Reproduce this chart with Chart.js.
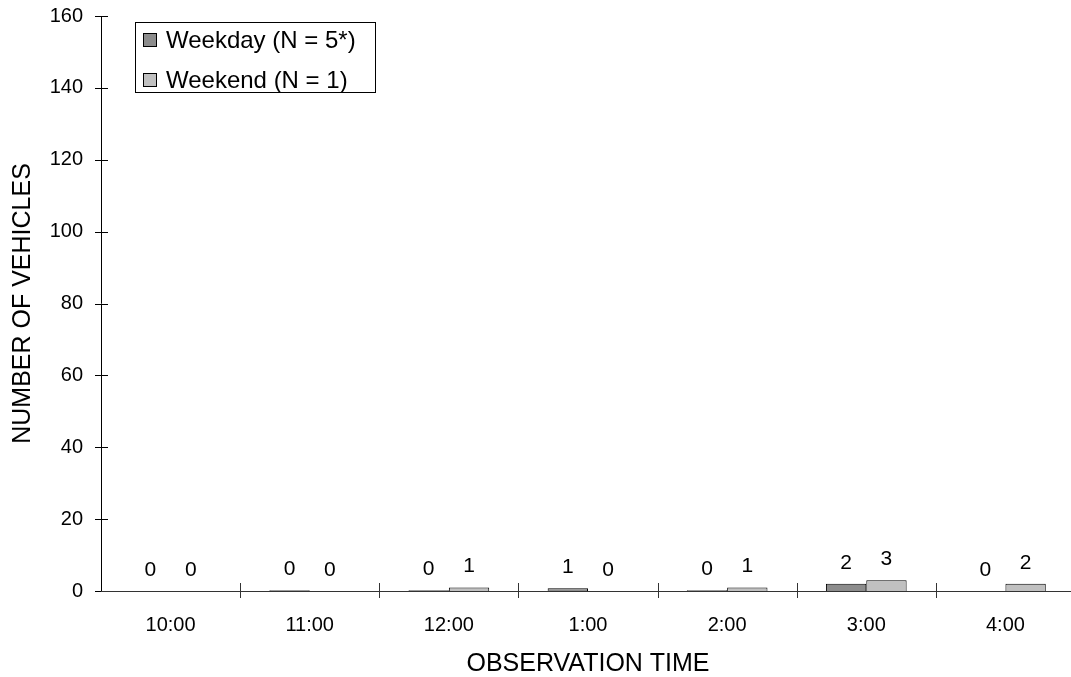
<!DOCTYPE html>
<html>
<head>
<meta charset="utf-8">
<script src="https://cdn.jsdelivr.net/npm/chart.js@4"></script>
<style>
  html, body { margin: 0; padding: 0; background: #fff; overflow: hidden; }
  #wrap { width: 1075px; height: 677px; position: relative; }
</style>
</head>
<body>
<div id="wrap"><canvas id="c"></canvas></div>
<script>
const times = ["10:00", "11:00", "12:00", "1:00", "2:00", "3:00", "4:00"];
const weekday = [0, 0.2, 0.2, 0.8, 0.2, 2, 0];
const weekend = [0, 0, 1, 0, 1, 3, 2];
const yTicks = [0, 20, 40, 60, 80, 100, 120, 140, 160];

const font = "Liberation Sans, Arial, sans-serif";

// value labels above every bar
const valueLabels = {
  id: "valueLabels",
  afterDatasetsDraw(chart) {
    const ctx = chart.ctx;
    ctx.save();
    ctx.font = "21px " + font;
    ctx.fillStyle = "#000";
    ctx.textAlign = "center";
    ctx.textBaseline = "alphabetic";
    chart.data.datasets.forEach((ds, i) => {
      chart.getDatasetMeta(i).data.forEach((bar, j) => {
        ctx.fillText(String(Math.round(ds.data[j])), bar.x, bar.y - 15);
      });
    });
    ctx.restore();
  }
};

// axis lines, crossing tick marks and the boxed legend
const frame = {
  id: "frame",
  afterDraw(chart) {
    const ctx = chart.ctx;
    const a = chart.chartArea;
    const ys = chart.scales.y;
    ctx.save();
    ctx.strokeStyle = "#000";
    ctx.lineWidth = 1;
    ctx.beginPath();
    ctx.moveTo(a.left + 0.5, a.top);
    ctx.lineTo(a.left + 0.5, a.bottom);
    yTicks.forEach(v => {
      const y = Math.round(ys.getPixelForValue(v)) + 0.5;
      ctx.moveTo(a.left - 6, y);
      ctx.lineTo(a.left + 7, y);
    });
    ctx.stroke();
    ctx.strokeStyle = "#333";
    ctx.beginPath();
    ctx.moveTo(a.left, a.bottom + 0.5);
    ctx.lineTo(a.right, a.bottom + 0.5);
    const step = (a.right - a.left) / times.length;
    for (let i = 1; i < times.length; i++) {
      const x = Math.round(a.left + i * step) + 0.5;
      ctx.moveTo(x, a.bottom - 8);
      ctx.lineTo(x, a.bottom + 7);
    }
    ctx.stroke();

    // legend
    ctx.fillStyle = "#fff";
    ctx.fillRect(135, 22, 240, 70);
    ctx.strokeStyle = "#000";
    ctx.strokeRect(135.5, 22.5, 240, 70);
    ctx.font = "24px " + font;
    ctx.textBaseline = "alphabetic";
    ctx.textAlign = "left";
    chart.data.datasets.forEach((ds, i) => {
      const cy = 40 + i * 40;
      ctx.fillStyle = ds.backgroundColor;
      ctx.fillRect(143, cy - 7, 14, 14);
      ctx.strokeStyle = "#000";
      ctx.strokeRect(143.5, cy - 6.5, 13, 13);
      ctx.fillStyle = "#000";
      ctx.fillText(ds.label, 166, cy + 8);
    });
    ctx.restore();
  }
};

new Chart(document.getElementById("c"), {
  type: "bar",
  data: {
    labels: times,
    datasets: [
      { label: "Weekday (N = 5*)", data: weekday, backgroundColor: "#8c8c8c", borderColor: "#000", borderWidth: 1 },
      { label: "Weekend (N = 1)", data: weekend, backgroundColor: "#c0c0c0", borderColor: "#000", borderWidth: 1 }
    ]
  },
  options: {
    responsive: true,
    maintainAspectRatio: false,
    animation: false,
    layout: { padding: { top: 16, right: 0, left: 0, bottom: 0 } },
    datasets: { bar: { categoryPercentage: 0.58, barPercentage: 1 } },
    plugins: { legend: { display: false }, tooltip: { enabled: false } },
    scales: {
      x: {
        grid: { display: false, drawTicks: false },
        border: { display: false },
        ticks: { color: "#000", font: { family: font, size: 20 }, padding: 22, maxRotation: 0 },
        title: { display: true, text: "OBSERVATION TIME", color: "#000", font: { family: font, size: 25 }, padding: { top: 0, bottom: -2 } },
        afterFit: s => { s.height = 86; s.paddingLeft = 0; s.paddingRight = 0; }
      },
      y: {
        min: 0, max: 160,
        afterBuildTicks: s => { s.ticks = yTicks.map(v => ({ value: v })); },
        grid: { display: false, drawTicks: false },
        border: { display: false },
        ticks: { color: "#000", font: { family: font, size: 20 }, padding: 18 },
        title: { display: true, text: "NUMBER OF VEHICLES", color: "#000", font: { family: font, size: 25 }, padding: { top: 8, bottom: 4 } },
        afterFit: s => { s.width = 101; s.paddingTop = 0; s.paddingBottom = 0; }
      }
    }
  },
  plugins: [valueLabels, frame]
});
</script>
</body>
</html>
